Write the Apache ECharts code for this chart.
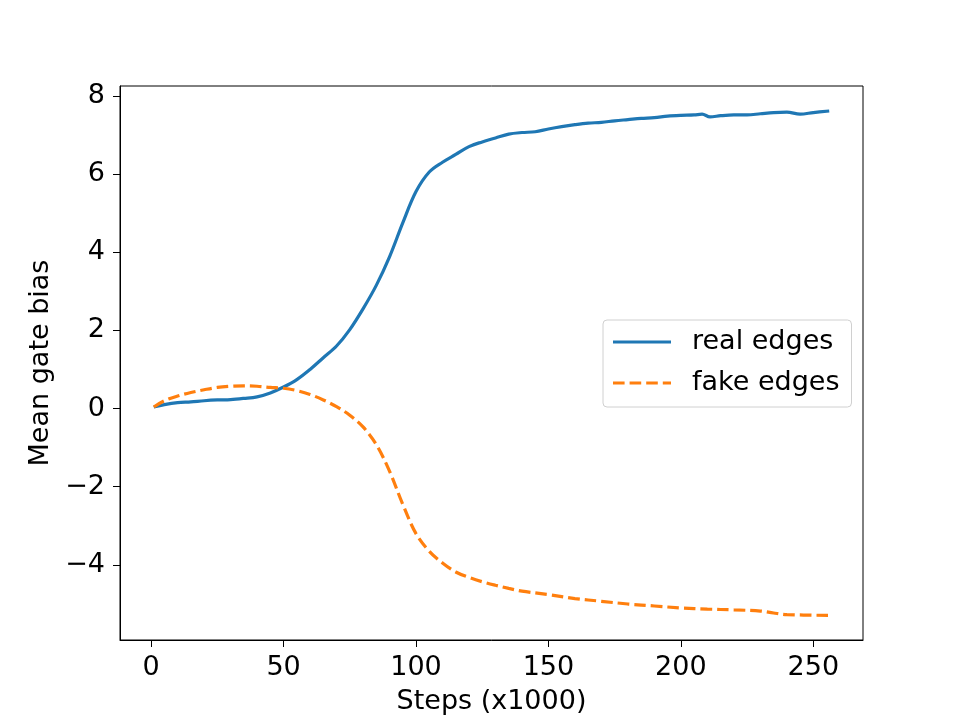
<!DOCTYPE html>
<html>
<head>
<meta charset="utf-8">
<script src="https://cdn.jsdelivr.net/npm/echarts@6/dist/echarts.min.js"></script>
<style>
  html, body { margin: 0; padding: 0; background: #fff; }
  #grafico { width: 960px; height: 720px; }
</style>
</head>
<body>
<div id="grafico"></div>
<script>
var passosReal = [1, 5, 10, 15, 20, 25, 30, 35, 40, 45, 50, 55, 60, 65, 70, 75, 80, 85, 90, 95, 100, 105, 110, 115, 120, 125, 130, 135, 140, 145, 150, 155, 160, 165, 170, 175, 180, 185, 190, 195, 200, 205, 208, 211, 215, 220, 225, 230, 235, 240, 245, 250, 256];
var real = [0.04, 0.10, 0.15, 0.17, 0.20, 0.22, 0.23, 0.26, 0.30, 0.40, 0.55, 0.74, 1.00, 1.30, 1.60, 2.02, 2.55, 3.15, 3.88, 4.75, 5.55, 6.05, 6.30, 6.50, 6.70, 6.82, 6.92, 7.02, 7.06, 7.08, 7.15, 7.21, 7.26, 7.30, 7.32, 7.36, 7.39, 7.42, 7.44, 7.48, 7.50, 7.51, 7.53, 7.46, 7.49, 7.51, 7.51, 7.54, 7.57, 7.58, 7.53, 7.57, 7.61];

var passosFake = [1, 5, 10, 15, 20, 25, 30, 35, 40, 45, 50, 55, 60, 65, 70, 75, 80, 85, 90, 95, 100, 105, 110, 115, 120, 125, 130, 135, 140, 150, 160, 170, 180, 190, 200, 210, 220, 230, 235, 240, 256];
var fake = [0.04, 0.20, 0.32, 0.41, 0.48, 0.54, 0.57, 0.58, 0.57, 0.54, 0.52, 0.46, 0.36, 0.22, 0.05, -0.17, -0.47, -0.92, -1.60, -2.45, -3.20, -3.65, -3.95, -4.18, -4.32, -4.43, -4.52, -4.60, -4.67, -4.76, -4.86, -4.93, -5.00, -5.05, -5.10, -5.13, -5.15, -5.18, -5.23, -5.27, -5.29];

var ticksX = [0, 50, 100, 150, 200, 250];
var ticksY = [-4, -2, 0, 2, 4, 6, 8];

function pares(xs, ys) {
  var out = [];
  for (var i = 0; i < xs.length; i++) out.push([xs[i], ys[i]]);
  return out;
}

var fonte = 'DejaVu Sans';
var tam = 27;
var chartDom = document.getElementById('grafico');
var myChart = echarts.init(chartDom);
var option;

// icones da legenda: linha cheia e tracejada
var iconeCheio = 'path://M0,0h58v3.2h-58z';
var iconeTraco = 'path://M0,0h11.6v3.2h-11.6zM16.6,0h11.6v3.2h-11.6zM33.2,0h11.6v3.2h-11.6zM49.8,0h8.2v3.2h-8.2z';

option = {
  backgroundColor: '#fff',
  animation: false,
  textStyle: { fontFamily: fonte },
  grid: {
    left: 120, top: 86, right: 97, bottom: 80,
    show: true, borderColor: '#000', borderWidth: 1, backgroundColor: 'transparent'
  },
  legend: {
    orient: 'vertical',
    left: 603, top: 320,
    padding: [8, 12, 10, 10],
    itemWidth: 58, itemHeight: 3.2, itemGap: 13,
    backgroundColor: '#fff',
    borderColor: '#d0d0d0', borderWidth: 1, borderRadius: 4,
    textStyle: { fontFamily: fonte, fontSize: tam, color: '#000', lineHeight: 28, padding: [0, 0, 0, 16] },
    data: [
      { name: 'real edges', icon: iconeCheio },
      { name: 'fake edges', icon: iconeTraco }
    ]
  },
  xAxis: {
    type: 'value',
    min: -11.75, max: 268.75,
    name: 'Steps (x1000)',
    nameLocation: 'middle', nameGap: 48,
    nameTextStyle: { fontFamily: fonte, fontSize: tam, color: '#000' },
    splitLine: { show: false },
    axisLine: { show: true, onZero: false, lineStyle: { color: '#000', width: 1 } },
    axisTick: { show: true, length: 7, customValues: ticksX, lineStyle: { color: '#000', width: 1 } },
    axisLabel: { customValues: ticksX, margin: 14, fontFamily: fonte, fontSize: tam, color: '#000' }
  },
  yAxis: {
    type: 'value',
    min: -5.92, max: 8.25,
    name: 'Mean gate bias',
    nameLocation: 'middle', nameGap: 64,
    nameTextStyle: { fontFamily: fonte, fontSize: tam, color: '#000' },
    splitLine: { show: false },
    axisLine: { show: true, onZero: false, lineStyle: { color: '#000', width: 1 } },
    axisTick: { show: true, length: 7, customValues: ticksY, lineStyle: { color: '#000', width: 1 } },
    axisLabel: {
      customValues: ticksY, margin: 15, fontFamily: fonte, fontSize: tam, color: '#000',
      formatter: function (v) { return v < 0 ? '\u2212' + Math.abs(v) : String(v); }
    }
  },
  series: [
    {
      name: 'real edges',
      type: 'line',
      data: pares(passosReal, real),
      symbol: 'none',
      smooth: 0.35,
      color: '#1f77b4',
      lineStyle: { color: '#1f77b4', width: 3.2 }
    },
    {
      name: 'fake edges',
      type: 'line',
      data: pares(passosFake, fake),
      symbol: 'none',
      smooth: 0.35,
      color: '#ff7f0e',
      lineStyle: { color: '#ff7f0e', width: 3.2, type: [11.6, 5] }
    }
  ]
};

option && myChart.setOption(option);
</script>
</body>
</html>
